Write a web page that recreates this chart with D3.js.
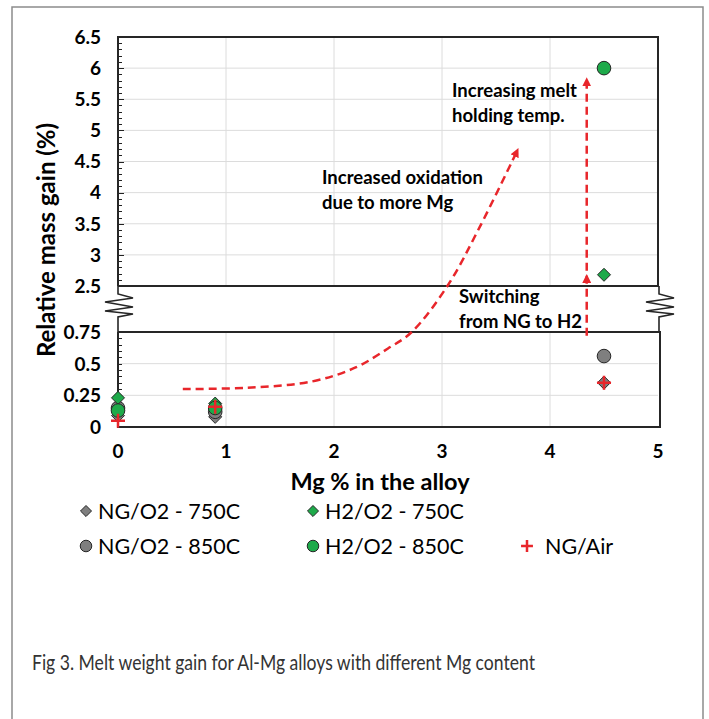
<!DOCTYPE html>
<html lang="en">
  <head>
    <meta charset="utf-8">
    <title>Melt weight gain</title>
    <script src="https://d3js.org/d3.v7.min.js"></script>
    <style media="screen" type="text/css">
      body { margin: 0; background: #fff; }
      svg { display: block; }
      text { font-family: Lato, "Open Sans", sans-serif; fill: #000; }
    </style>
  </head>
  <body>
    <svg id="chart" width="709" height="719"></svg>
    <script type="text/javascript">
      // Data
      const seriesNames = ['NG/O2 - 750C', 'NG/O2 - 850C', 'H2/O2 - 750C', 'H2/O2 - 850C', 'NG/Air'];
      const mgContent = [0, 0.9, 4.5];
      const ngO2_750 = [0.09, 0.08, 0.35];
      const ngO2_850 = [0.15, 0.12, 0.56];
      const h2O2_750 = [0.23, 0.185, 2.68];
      const h2O2_850 = [0.13, 0.15, 6.0];
      const ngAir = [0.05, 0.16, 0.35];
      const xTicks = [0, 1, 2, 3, 4, 5];
      const upperTicks = [2.5, 3, 3.5, 4, 4.5, 5, 5.5, 6, 6.5];
      const lowerTicks = [0, 0.25, 0.5, 0.75];
      const oxidationPath = [[0.6, 0.30], [1.2, 0.31], [1.8, 0.36], [2.2, 0.47], [2.5, 0.62], [2.72, 0.75], [3.05, 2.5], [3.35, 3.45], [3.69, 4.65]];
      const tempPath = [[4.34, 0.72], [4.34, 2.62], [4.34, 5.78]];
      const caption = 'Fig 3. Melt weight gain for Al-Mg alloys with different Mg content';

      const series = [
        { name: seriesNames[0], values: ngO2_750, shape: 'diamond', fill: '#7f7f7f', col: 0, row: 0 },
        { name: seriesNames[1], values: ngO2_850, shape: 'circle', fill: '#7f7f7f', col: 0, row: 1 },
        { name: seriesNames[2], values: h2O2_750, shape: 'diamond', fill: '#1eaa4a', col: 1, row: 0 },
        { name: seriesNames[3], values: h2O2_850, shape: 'circle', fill: '#1eaa4a', col: 1, row: 1 },
        { name: seriesNames[4], values: ngAir, shape: 'plus', fill: '#e8262b', col: 2, row: 1 }
      ];

      // Layout
      const svg = d3.select('#chart');
      const left = 118, right = 658;
      const upper = { top: 37, bottom: 286 };
      const lower = { top: 332, bottom: 427 };
      const red = '#e8262b';

      const x = d3.scaleLinear().domain([0, 5]).range([left, right]);
      const yU = d3.scaleLinear().domain([2.5, 6.5]).range([upper.bottom, upper.top]);
      const yL = d3.scaleLinear().domain([0, 0.75]).range([lower.bottom, lower.top]);
      const yGap = d3.scaleLinear().domain([0.75, 2.5]).range([lower.top, upper.bottom]);
      const yPos = v => v >= 2.5 ? yU(v) : (v <= 0.75 ? yL(v) : yGap(v));

      // outer figure frame
      svg.append('path')
        .attr('d', 'M12,722V7H703V722')
        .attr('fill', 'none')
        .attr('stroke', '#8c8c8c')
        .attr('stroke-width', 1.5);

      // gridlines
      const grid = svg.append('g').attr('stroke', '#dcdcdc').attr('stroke-width', 1);
      [upper, lower].forEach(p => {
        grid.selectAll(null)
          .data(xTicks.slice(1, -1))
          .enter().append('line')
            .attr('x1', d => x(d)).attr('x2', d => x(d))
            .attr('y1', p.top).attr('y2', p.bottom);
      });
      grid.selectAll(null)
        .data(upperTicks.slice(1, -1))
        .enter().append('line')
          .attr('x1', left).attr('x2', right)
          .attr('y1', d => yU(d)).attr('y2', d => yU(d));
      grid.selectAll(null)
        .data(lowerTicks.slice(1, -1))
        .enter().append('line')
          .attr('x1', left).attr('x2', right)
          .attr('y1', d => yL(d)).attr('y2', d => yL(d));

      // minor ticks on the y axis (inside)
      const ticks = svg.append('g').attr('stroke', '#222').attr('stroke-width', 1);
      ticks.selectAll(null)
        .data(d3.range(2.5, 6.5001, 0.1))
        .enter().append('line')
          .attr('x1', left).attr('x2', d => left + (Math.abs(d * 2 - Math.round(d * 2)) < 1e-6 ? 6 : 4))
          .attr('y1', d => Math.round(yU(d)) + 0.5).attr('y2', d => Math.round(yU(d)) + 0.5);
      ticks.selectAll(null)
        .data(d3.range(0, 0.7501, 0.05))
        .enter().append('line')
          .attr('x1', left).attr('x2', d => left + 4)
          .attr('y1', d => Math.round(yL(d)) + 0.5).attr('y2', d => Math.round(yL(d)) + 0.5);

      // panel frames
      const frame = svg.append('g').attr('fill', 'none').attr('stroke', '#262626').attr('stroke-width', 2);
      frame.append('path')
        .attr('d', `M${left},${upper.bottom}V${upper.top}H${right}V${upper.bottom}H${left}`);
      frame.append('path')
        .attr('d', `M${left},${lower.top}V${lower.bottom}H${right + 2}V${lower.top}H${left}`);

      // axis break zigzags
      function zigzag(cx) {
        const a = upper.bottom, b = lower.top;
        return `M${cx},${a}V${a + 8}L${cx + 15},${a + 12}L${cx - 13},${a + 16}L${cx + 15},${a + 21}` +
          `L${cx - 13},${a + 25}L${cx + 15},${a + 28}L${cx},${a + 31}V${b}`;
      }
      frame.append('path').attr('d', zigzag(left)).attr('stroke-width', 1.6);
      frame.append('path').attr('d', zigzag(right + 1)).attr('stroke-width', 1.6);

      // tick labels
      svg.append('g').selectAll('text')
        .data(upperTicks)
        .enter().append('text')
          .attr('x', 101).attr('y', d => yU(d)).attr('dy', '0.36em')
          .attr('text-anchor', 'end').attr('font-weight', 700).attr('font-size', 19)
          .text(d => d);
      svg.append('g').selectAll('text')
        .data(lowerTicks)
        .enter().append('text')
          .attr('x', 101).attr('y', d => yL(d)).attr('dy', '0.36em')
          .attr('text-anchor', 'end').attr('font-weight', 700).attr('font-size', 19)
          .text(d => d);
      svg.append('g').selectAll('text')
        .data(xTicks)
        .enter().append('text')
          .attr('x', d => x(d)).attr('y', 451).attr('dy', '0.36em')
          .attr('text-anchor', 'middle').attr('font-weight', 700).attr('font-size', 19)
          .text(d => d);

      // axis titles
      svg.append('text')
        .attr('x', 380).attr('y', 482).attr('dy', '0.36em')
        .attr('text-anchor', 'middle').attr('font-weight', 700).attr('font-size', 23.5)
        .text('Mg % in the alloy');
      svg.append('text')
        .attr('transform', 'translate(46,240) rotate(-90)').attr('dy', '0.36em')
        .attr('text-anchor', 'middle').attr('font-weight', 700).attr('font-size', 24)
        .text('Relative mass gain (%)');

      // annotations
      const defs = svg.append('defs');
      defs.append('marker')
        .attr('id', 'head')
        .attr('viewBox', '0 0 10 10').attr('refX', 5).attr('refY', 5)
        .attr('markerWidth', 3.6).attr('markerHeight', 3.6)
        .attr('orient', 'auto')
        .append('path').attr('d', 'M0,0L10,5L0,10Z').attr('fill', red);

      const line = d3.line().x(d => x(d[0])).y(d => yPos(d[1])).curve(d3.curveCatmullRom);
      svg.append('path')
        .attr('d', line(oxidationPath))
        .attr('fill', 'none').attr('stroke', red).attr('stroke-width', 2.5)
        .attr('stroke-dasharray', '8,5')
        .attr('marker-end', 'url(#head)');
      svg.append('path')
        .attr('d', d3.line().x(d => x(d[0])).y(d => yPos(d[1]))(tempPath))
        .attr('fill', 'none').attr('stroke', red).attr('stroke-width', 2.5)
        .attr('stroke-dasharray', '8,5')
        .attr('marker-mid', 'url(#head)')
        .attr('marker-end', 'url(#head)');

      const notes = [
        { lines: ['Increasing melt', 'holding temp.'], x: 452, y: 90 },
        { lines: ['Increased oxidation', 'due to more Mg'], x: 322, y: 177 },
        { lines: ['Switching', 'from NG to H2'], x: 459, y: 296 }
      ];
      notes.forEach(n => {
        svg.append('g').selectAll('text')
          .data(n.lines)
          .enter().append('text')
            .attr('x', n.x).attr('y', (d, i) => n.y + i * 25).attr('dy', '0.36em')
            .attr('font-weight', 700).attr('font-size', 18.5)
            .text(d => d);
      });

      // markers
      function diamondPath(r) {
        return `M0,${-r}L${r},0L0,${r}L${-r},0Z`;
      }
      function drawMarker(g, s, scale) {
        if (s.shape === 'diamond') {
          g.append('path').attr('d', diamondPath(6.5 * scale))
            .attr('fill', s.fill).attr('stroke', '#262626').attr('stroke-width', 1);
        } else if (s.shape === 'circle') {
          g.append('circle').attr('r', 6.8 * scale)
            .attr('fill', s.fill).attr('stroke', '#262626').attr('stroke-width', 1);
        } else {
          const h = 7 * scale;
          g.append('path').attr('d', `M${-h},0H${h}M0,${-h}V${h}`)
            .attr('stroke', s.fill).attr('stroke-width', 2.5);
        }
      }

      const plot = svg.append('g');
      series.forEach(s => {
        mgContent.forEach((m, i) => {
          const g = plot.append('g').attr('transform', `translate(${x(m)},${yPos(s.values[i])})`);
          drawMarker(g, s, 1);
        });
      });

      // legend
      const legendCols = [86, 313, 527];
      const legendRows = [511, 546];
      series.forEach(s => {
        const g = svg.append('g')
          .attr('transform', `translate(${legendCols[s.col]},${legendRows[s.row]})`);
        drawMarker(g, s, 0.85);
        g.append('text')
          .attr('x', s.shape === 'plus' ? 18 : 12).attr('dy', '0.36em')
          .attr('font-size', 21.5)
          .text(s.name);
      });

      // caption, squeezed like the condensed original face
      svg.append('text')
        .attr('x', 32).attr('y', 662).attr('dy', '0.36em')
        .attr('font-size', 22)
        .attr('textLength', 503).attr('lengthAdjust', 'spacingAndGlyphs')
        .style('fill', '#333')
        .text(caption);
    </script>
  </body>
</html>
